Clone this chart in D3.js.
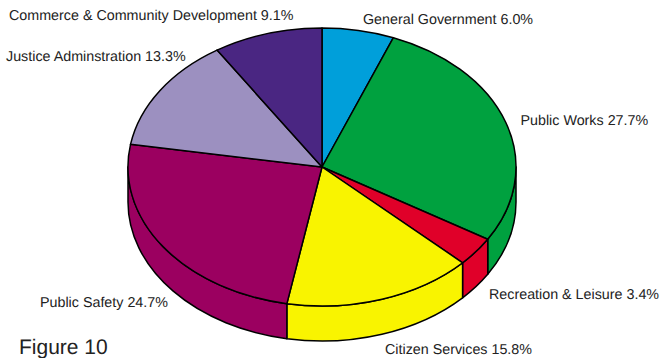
<!DOCTYPE html>
<html>
<head>
<meta charset="utf-8">
<style>
html,body{margin:0;padding:0;background:#fff}
svg{display:block}
text{font-family:"Liberation Sans",Arial,sans-serif;fill:#222;text-rendering:geometricPrecision}
</style>
<script src="https://cdn.jsdelivr.net/npm/d3@7"></script>
</head>
<body>
<script>
// Budget shares by function, clockwise from twelve o'clock
const categories = ["General Government","Public Works","Recreation & Leisure","Citizen Services","Public Safety","Justice Adminstration","Commerce & Community Development"];
const shares = [6.0,27.7,3.4,15.8,24.7,13.3,9.1];
const colors = ["#009FDA","#00A13F","#E00029","#F9F400","#9B0060","#9C90C0","#4A2682"];
const labelSpots = [[363,24],[520.5,125],[489,299],[385,354],[40,307],[6,61],[9,20]];
const figureTitle = "Figure 10";

const width = 663, height = 358;
const cx = 322, cy = 167, rx = 194, ry = 139, depth = 35;

const svg = d3.select("body").append("svg").attr("width",width).attr("height",height);

const slices = d3.pie().sort(null).value(d=>d)(shares);
const px = a => cx + rx*Math.sin(a);
const py = a => cy - ry*Math.cos(a);
const fmt = v => v.toFixed(2);

// Front wall: only the part of each slice's rim between 3 and 9 o'clock shows
const wall = d3.range(slices.length).map(i=>{
  const a0 = Math.max(slices[i].startAngle, Math.PI/2);
  const a1 = Math.min(slices[i].endAngle, 3*Math.PI/2);
  return {i,a0,a1};
}).filter(d=>d.a1>d.a0);

svg.append("g").selectAll("path").data(wall).join("path")
  .attr("d",d=>`M${fmt(px(d.a0))},${fmt(py(d.a0))}`
    +`A${rx},${ry} 0 0 1 ${fmt(px(d.a1))},${fmt(py(d.a1))}`
    +`L${fmt(px(d.a1))},${fmt(py(d.a1)+depth)}`
    +`A${rx},${ry} 0 0 0 ${fmt(px(d.a0))},${fmt(py(d.a0)+depth)}Z`)
  .attr("fill",d=>colors[d.i])
  .attr("stroke","#000").attr("stroke-width",1.5).attr("stroke-linejoin","round");

// Top face: a unit pie squashed into the ellipse
const arc = d3.arc().innerRadius(0).outerRadius(1);
svg.append("g").attr("transform",`translate(${cx},${cy}) scale(${rx},${ry})`)
  .selectAll("path").data(slices).join("path")
  .attr("d",arc)
  .attr("fill",(d,i)=>colors[i])
  .attr("stroke","#000").attr("stroke-width",1.5)
  .attr("stroke-linejoin","round")
  .attr("vector-effect","non-scaling-stroke");

svg.append("g").selectAll("text").data(categories).join("text")
  .attr("x",(d,i)=>labelSpots[i][0]).attr("y",(d,i)=>labelSpots[i][1])
  .attr("font-size",14.3)
  .text((d,i)=>`${d} ${shares[i].toFixed(1)}%`);

svg.append("text").attr("x",19).attr("y",353.5).attr("font-size",21).text(figureTitle);
</script>
</body>
</html>
